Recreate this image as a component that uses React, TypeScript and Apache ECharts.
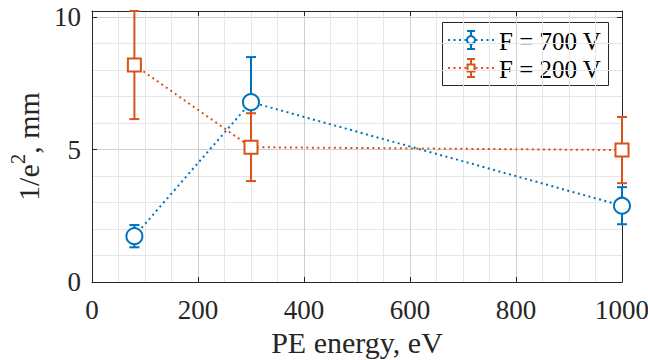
import React, { useEffect, useRef } from "react";
import * as echarts from "echarts";

const energies700 = [80, 300, 1000];
const width700 = [1.73, 6.79, 2.88];
const err700 = [0.42, 1.7, 0.7];

const energies200 = [80, 300, 1000];
const width200 = [8.19, 5.09, 4.98];
const err200 = [2.04, 1.28, 1.25];

const xTicks = [0, 200, 400, 600, 800, 1000];
const yTicks = [0, 5, 10];
const legendNames = ["F = 700 V", "F = 200 V"];

const BLUE = "#0072BD";
const ORANGE = "#D95319";
const AX = "#262626";
const FONT = "Liberation Serif";

function errRender(color: string) {
  return (params: any, api: any) => {
    const x = api.value(0);
    const y = api.value(1);
    const e = api.value(2);
    const top = api.coord([x, y + e]);
    const bot = api.coord([x, y - e]);
    const hw = 5;
    const style = { stroke: color, lineWidth: 2, fill: "none" };
    return {
      type: "group",
      children: [
        { type: "line", shape: { x1: top[0], y1: top[1], x2: bot[0], y2: bot[1] }, style },
        { type: "line", shape: { x1: top[0] - hw, y1: top[1], x2: top[0] + hw, y2: top[1] }, style },
        { type: "line", shape: { x1: bot[0] - hw, y1: bot[1], x2: bot[0] + hw, y2: bot[1] }, style },
      ],
    };
  };
}

function legendRow(y: number, color: string, marker: "circle" | "rect", label: string) {
  const cx = 471;
  const dotted = { stroke: color, lineWidth: 2, lineDash: [2, 3.5] };
  const solid = { stroke: color, lineWidth: 2 };
  const m =
    marker === "circle"
      ? { type: "circle", shape: { cx, cy: y, r: 4 }, style: { fill: "#fff", stroke: color, lineWidth: 2 } }
      : { type: "rect", shape: { x: cx - 3.5, y: y - 3.5, width: 7, height: 7 }, style: { fill: "#fff", stroke: color, lineWidth: 2 } };
  return [
    { type: "line", shape: { x1: 448, y1: y, x2: 494, y2: y }, style: dotted },
    { type: "line", shape: { x1: cx, y1: y - 9, x2: cx, y2: y + 9 }, style: solid },
    { type: "line", shape: { x1: cx - 4, y1: y - 9, x2: cx + 4, y2: y - 9 }, style: solid },
    { type: "line", shape: { x1: cx - 4, y1: y + 9, x2: cx + 4, y2: y + 9 }, style: solid },
    m,
    {
      type: "text",
      x: 499,
      y: y + 1,
      style: { text: label, fontFamily: FONT, fontSize: 25, fill: "#000", verticalAlign: "middle", align: "left" },
    },
  ];
}

export default function App() {
  const ref = useRef<HTMLDivElement>(null);
  useEffect(() => {
    if (!ref.current) return;
    const chart = echarts.init(ref.current, undefined, { renderer: "svg" });
    const yMax = 10.23;
    const hiddenY = {
      type: "value",
      min: 0,
      max: yMax,
      interval: 1,
      position: "left",
      axisLine: { show: false },
      axisTick: { show: false },
      axisLabel: { show: false },
      splitLine: { show: true, lineStyle: { color: "#e6e6e6", width: 1 } },
    };
    const option: any = {
      animation: false,
      backgroundColor: "#fff",
      textStyle: { fontFamily: FONT },
      grid: { left: 92, right: 26, top: 11, bottom: 78, containLabel: false, outerBoundsMode: "none" },
      xAxis: [
        {
          type: "value",
          min: 0,
          max: 1000,
          interval: 200,
          position: "bottom",
          name: "PE energy, eV",
          nameLocation: "middle",
          nameGap: 40,
          nameTextStyle: { fontFamily: FONT, fontSize: 30, color: AX },
          axisLine: { show: true, onZero: false, lineStyle: { color: AX, width: 1 } },
          axisTick: { show: true, inside: true, length: 5, lineStyle: { color: AX } },
          axisLabel: {
            margin: 14,
            fontFamily: FONT,
            fontSize: 27,
            color: AX,
            formatter: (v: number) => (xTicks.includes(v) ? String(v) : ""),
          },
          splitLine: { show: true, lineStyle: { color: "#cfcfcf", width: 1 } },
          minorTick: { show: false, splitNumber: 4 },
          minorSplitLine: { show: true, lineStyle: { color: "#e6e6e6", width: 1 } },
        },
        {
          type: "value",
          min: 0,
          max: 1000,
          interval: 200,
          position: "top",
          axisLine: { show: true, onZero: false, lineStyle: { color: AX, width: 1 } },
          axisTick: { show: true, inside: true, length: 5, lineStyle: { color: AX } },
          axisLabel: { show: false },
          splitLine: { show: false },
        },
      ],
      yAxis: [
        hiddenY,
        {
          type: "value",
          min: 0,
          max: yMax,
          interval: 5,
          position: "left",
          name: "{a|1/e}{s|2}{a|, mm}",
          nameLocation: "middle",
          nameGap: 44,
          nameTextStyle: {
            fontFamily: FONT,
            fontSize: 30,
            color: AX,
            rich: {
              a: { fontFamily: FONT, fontSize: 30, color: AX, lineHeight: 36, verticalAlign: "bottom" },
              s: { fontFamily: FONT, fontSize: 21, color: AX, lineHeight: 21, verticalAlign: "top" },
            },
          },
          axisLine: { show: true, onZero: false, lineStyle: { color: AX, width: 1 } },
          axisTick: { show: true, inside: true, length: 5, lineStyle: { color: AX } },
          axisLabel: {
            margin: 11,
            fontFamily: FONT,
            fontSize: 27,
            color: AX,
            formatter: (v: number) => (yTicks.includes(v) ? String(v) : ""),
          },
          splitLine: { show: true, lineStyle: { color: "#cfcfcf", width: 1 } },
        },
        {
          type: "value",
          min: 0,
          max: yMax,
          interval: 5,
          position: "right",
          axisLine: { show: true, onZero: false, lineStyle: { color: AX, width: 1 } },
          axisTick: { show: true, inside: true, length: 5, lineStyle: { color: AX } },
          axisLabel: { show: false },
          splitLine: { show: false },
        },
      ],
      series: [
        {
          type: "line",
          yAxisIndex: 1,
          data: energies700.map((x, i) => [x, width700[i]]),
          symbol: "none",
          lineStyle: { color: BLUE, width: 2, type: [2, 3.5] },
          z: 2,
        },
        {
          type: "custom",
          yAxisIndex: 1,
          data: energies700.map((x, i) => [x, width700[i], err700[i]]),
          renderItem: errRender(BLUE),
          z: 3,
        },
        {
          type: "scatter",
          yAxisIndex: 1,
          data: energies700.map((x, i) => [x, width700[i]]),
          symbol: "circle",
          symbolSize: 16,
          itemStyle: { color: "#fff", borderColor: BLUE, borderWidth: 2, opacity: 1 },
          z: 4,
        },
        {
          type: "line",
          yAxisIndex: 1,
          data: energies200.map((x, i) => [x, width200[i]]),
          symbol: "none",
          lineStyle: { color: ORANGE, width: 2, type: [2, 3.5] },
          z: 5,
        },
        {
          type: "custom",
          yAxisIndex: 1,
          data: energies200.map((x, i) => [x, width200[i], err200[i]]),
          renderItem: errRender(ORANGE),
          z: 6,
        },
        {
          type: "scatter",
          yAxisIndex: 1,
          data: energies200.map((x, i) => [x, width200[i]]),
          symbol: "rect",
          symbolSize: 13,
          itemStyle: { color: "#fff", borderColor: ORANGE, borderWidth: 2, opacity: 1 },
          z: 7,
        },
      ],
      graphic: [
        {
          type: "group",
          z: 100,
          children: [
            {
              type: "rect",
              shape: { x: 442.5, y: 22.5, width: 166, height: 63 },
              style: { fill: "#fff", stroke: AX, lineWidth: 1 },
            },
            ...legendRow(40, BLUE, "circle", legendNames[0]),
            ...legendRow(68, ORANGE, "rect", legendNames[1]),
          ],
        },
      ],
    };
    chart.setOption(option);
    return () => chart.dispose();
  }, []);
  return <div ref={ref} style={{ width: 648, height: 360, position: "absolute", left: 0, top: 0 }} />;
}
